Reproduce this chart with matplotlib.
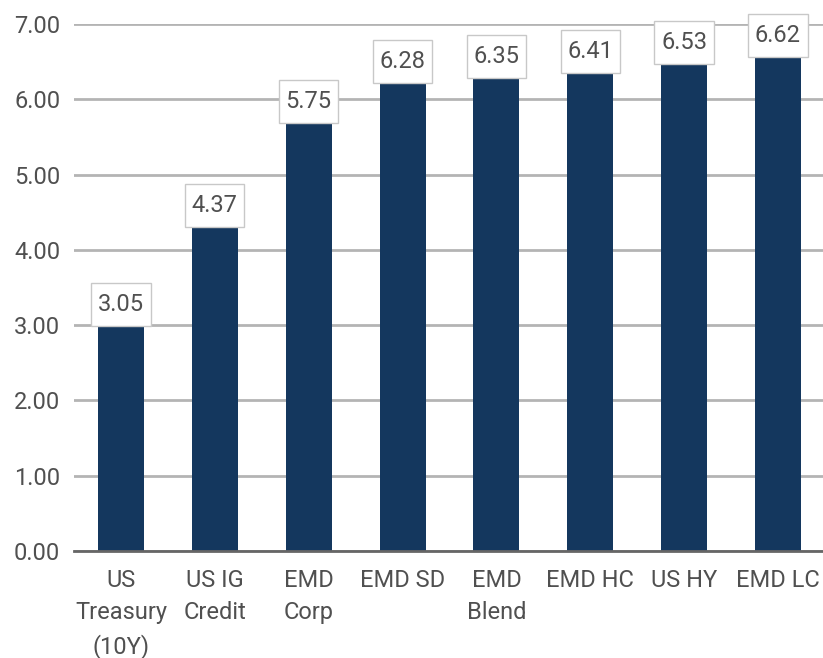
import matplotlib.pyplot as plt
from matplotlib import font_manager
from matplotlib.path import Path

# Yields by asset class (%)
categorias = ['US\nTreasury\n(10Y)', 'US IG\nCredit', 'EMD\nCorp', 'EMD SD',
              'EMD\nBlend', 'EMD HC', 'US HY', 'EMD LC']
rendimientos = [3.05, 4.37, 5.75, 6.28, 6.35, 6.41, 6.53, 6.62]
ticks_y = [0, 1, 2, 3, 4, 5, 6, 7]

disponibles = {f.name for f in font_manager.fontManager.ttflist}
fuente = 'Liberation Sans Narrow' if 'Liberation Sans Narrow' in disponibles else 'Roboto'
plt.rcParams['font.family'] = [fuente, 'DejaVu Sans']

color_barra = '#14375e'
color_texto = '#505050'


def caja_etiqueta(x0, y0, width, height, mutation_size):
    # caja rectangular con mas relleno vertical que horizontal
    px = 0.28 * mutation_size
    py = 0.42 * mutation_size
    x0, y0 = x0 - px, y0 - py
    x1, y1 = x0 + width + 2 * px, y0 + height + 2 * py
    return Path([(x0, y0), (x1, y0), (x1, y1), (x0, y1), (x0, y0)], closed=True)


fig = plt.figure(figsize=(8.23, 6.58), dpi=100)
ax = fig.add_axes([0.09, 0.1626, 0.91, 0.801])

x = range(len(categorias))
barras = ax.bar(x, rendimientos, width=0.49, color=color_barra, zorder=2)

# Etiquetas con caja blanca sobre cada barra
for xi, val in zip(x, rendimientos):
    ax.annotate(f'{val:.2f}', xy=(xi, val), xytext=(0, 12), textcoords='offset points',
                ha='center', va='center', fontsize=17, color=color_texto, zorder=4,
                bbox=dict(boxstyle=caja_etiqueta, fc='white', ec='#c8c8c8', lw=1))

ax.set_xlim(-0.5, 7.48)
ax.set_ylim(0, 7)
ax.set_yticks(ticks_y)
ax.set_yticklabels([f'{t:.2f}' for t in ticks_y])
ax.set_xticks(list(x))
ax.set_xticklabels(categorias, linespacing=1.5)

ax.yaxis.grid(True, color='#b4b4b4', linewidth=2, zorder=0)
ax.set_axisbelow(True)
ax.tick_params(axis='both', length=0, labelsize=17, labelcolor=color_texto)
ax.tick_params(axis='x', pad=13)
ax.tick_params(axis='y', pad=10)

for lado in ['top', 'right', 'left']:
    ax.spines[lado].set_visible(False)
ax.spines['bottom'].set_color('#666666')
ax.spines['bottom'].set_linewidth(2)
ax.spines['bottom'].set_zorder(3)

fig.savefig('out.png', dpi=100)
